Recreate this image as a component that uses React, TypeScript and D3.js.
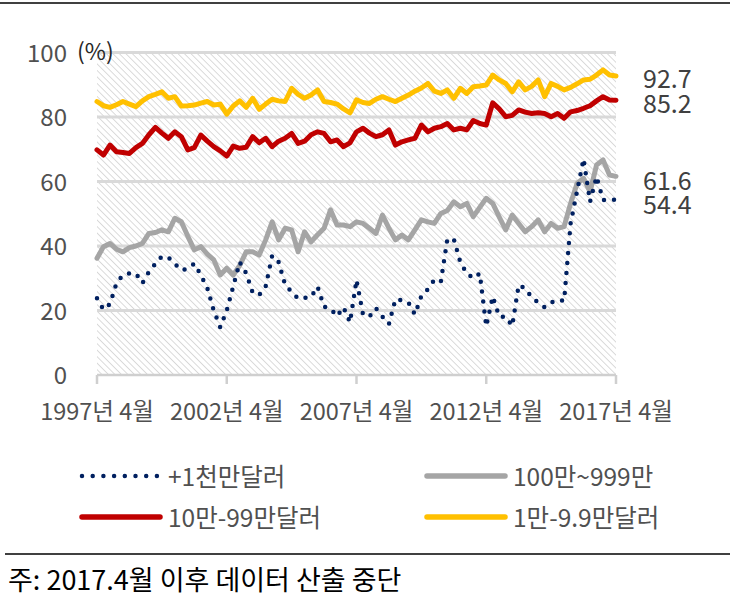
import { scaleLinear, line } from "d3";

const xLabels = ["1997년 4월", "2002년 4월", "2007년 4월", "2012년 4월", "2017년 4월"];
const yTicks = [0, 20, 40, 60, 80, 100];

// quarterly, 1997.4 ~ 2017.4 (81 points)
const small = [
  84.8, 83.5, 83, 83.8, 84.8, 84, 83.2, 85, 86.3, 87, 87.8, 85.8, 86.3, 83.4, 83.5, 83.7, 84.3, 84.8, 83.7, 84,
  80.9, 83.4, 85, 83, 85.8, 82.4, 84, 85.5, 85, 84.8, 88.9, 87, 85.8, 86.8, 88.4, 84.8, 84.5, 84, 82.5, 81.3,
  85.3, 84.5, 84.2, 85.5, 86.3, 85.5, 84.8, 85.8, 86.8, 88, 89, 90.4, 88, 87.3, 88.4, 85.8, 88.9, 87.3, 89.4, 89.6,
  89.9, 93, 91.5, 90.4, 87.8, 90.9, 88.4, 89.5, 91.5, 86.3, 90.4, 89.5, 88.4, 89.2, 90.3, 91.5, 91.7, 93, 94.6, 93,
  92.7,
];
const mid = [
  69.8, 68.2, 71.3, 69.2, 69, 68.7, 70.5, 71.8, 74.5, 76.8, 75, 73.4, 75.4, 73.9, 69.8, 70.5, 74.4, 72.5, 70.8, 69.5,
  67.9, 71, 70.3, 70.6, 73.9, 72, 73.4, 70.8, 72.5, 73.4, 74.9, 71.8, 72.5, 74.5, 75.4, 74.9, 72.3, 72.9, 70.8, 72,
  75.4, 76.5, 75, 73.9, 74.5, 76, 71.3, 72.3, 72.9, 73.4, 77.5, 75.4, 76.5, 77, 78, 76, 76.5, 76, 78.9, 78,
  77.5, 84.4, 82.5, 80.1, 80.5, 82.2, 81.5, 81.1, 81.3, 81.1, 80.1, 81.1, 79.6, 81.6, 82, 82.7, 83.5, 85, 86.3, 85.3,
  85.2,
];
const large = [
  36.2, 39.8, 40.8, 39, 38.2, 39.5, 40, 40.8, 43.9, 44.2, 45, 44.4, 48.6, 47.5, 43, 38.8, 39.8, 37.5, 35.7, 31,
  33.1, 31, 34, 38.2, 38.2, 37.2, 41.9, 47.5, 41.9, 45.5, 45, 38.2, 44.4, 41.3, 43.5, 45.5, 51.2, 46.5, 46.5, 46,
  47.5, 47, 45.5, 43.9, 49.6, 45.5, 41.9, 43.4, 41.9, 45, 48.1, 47.5, 47, 50.1, 51, 53.7, 52.2, 53.2, 49.1, 52,
  54.8, 53.2, 49, 45, 49.6, 47, 44.4, 46, 48.1, 44.4, 47, 45.5, 46, 53.2, 59.4, 61, 56.8, 65.1, 66.7, 62,
  61.6,
];
const top = [
  23.8, 20.3, 22, 28.5, 31, 31.5, 31.5, 28.5, 32, 34.5, 36.8, 36.5, 34.5, 32.5, 33, 34.5, 31, 27, 20, 14.8,
  20, 27.5, 35, 31.5, 25.5, 24.8, 27.5, 37, 35, 28, 25.8, 23.7, 23.9, 24.2, 27.4, 21.2, 20.6, 18.2, 21, 16.3,
  29.5, 18.8, 18.1, 20.7, 18.1, 15.8, 23.5, 23.2, 22.5, 18.8, 24.5, 26.6, 29.5, 28.9, 42.1, 42.1, 35, 31.5, 30, 31.5,
  15.1, 24.3, 18.1, 18.1, 15.2, 27.9, 26.9, 24.1, 22.5, 21, 22.5, 23.3, 23, 47, 57, 67, 53.7, 61.5, 54.3, 54.3,
  54.4,
];

const series = [
  { name: "100만~999만", values: large, color: "#A5A5A5", dotted: false, endDy: 3 },
  { name: "10만-99만달러", values: mid, color: "#C00000", dotted: false, endDy: 2 },
  { name: "1만-9.9만달러", values: small, color: "#FFC000", dotted: false, endDy: 1 },
  { name: "+1천만달러", values: top, color: "#002060", dotted: true, endDy: 3 },
];

const legendOrder = [
  { s: 3, col: 0, row: 0 },
  { s: 0, col: 1, row: 0 },
  { s: 1, col: 0, row: 1 },
  { s: 2, col: 1, row: 1 },
];

const FONT = "'Noto Sans CJK KR', 'Noto Sans', sans-serif";

export default function App() {
  const W = 735;
  const H = 598;
  const x = scaleLinear().domain([0, small.length - 1]).range([97, 616]);
  const y = scaleLinear().domain([0, 100]).range([375, 52.5]);
  const mk = line<number>()
    .x((_, i) => x(i))
    .y((d) => y(d));

  const legendX = [80, 425];
  const legendY = [476, 517];

  return (
    <svg
      width={W}
      height={H}
      style={{ position: "absolute", left: 0, top: 0, display: "block" }}
      fontFamily={FONT}
    >
      <defs>
        <pattern
          id="hatch"
          patternUnits="userSpaceOnUse"
          width={4.6}
          height={4.6}
          patternTransform="rotate(-45)"
        >
          <rect width={4.6} height={4.6} fill="#ffffff" />
          <line x1={0} y1={0} x2={0} y2={4.6} stroke="#d2d2d2" strokeWidth={1.6} />
        </pattern>
      </defs>
      <rect width={W} height={H} fill="#fff" />
      <line x1={0} x2={730} y1={3} y2={3} stroke="#000" strokeWidth={1.5} />

      <rect x={x(0)} y={y(100)} width={x(80) - x(0)} height={y(0) - y(100)} fill="url(#hatch)" />

      {yTicks.filter((t) => t > 0).map((t) => (
        <line key={t} x1={x(0)} x2={x(80)} y1={y(t)} y2={y(t)} stroke="#d9d9d9" strokeWidth={3} />
      ))}
      <line x1={x(0)} x2={x(80)} y1={y(0)} y2={y(0)} stroke="#cfcfcf" strokeWidth={2.5} />
      {xLabels.map((lab, k) => (
        <g key={lab}>
          <line x1={x(k * 20)} x2={x(k * 20)} y1={y(0)} y2={y(0) + 9} stroke="#cfcfcf" strokeWidth={2.5} />
          <text
            x={x(k * 20)}
            y={410}
            textAnchor="middle"
            dominantBaseline="central"
            fontSize={23.5}
            fill="#505050"
          >
            {lab}
          </text>
        </g>
      ))}

      {yTicks.map((t) => (
        <text
          key={t}
          x={67}
          y={y(t) - 1.5}
          textAnchor="end"
          dominantBaseline="central"
          fontSize={24}
          fill="#505050"
        >
          {t}
        </text>
      ))}
      <text x={77} y={y(100) - 2.5} dominantBaseline="central" fontSize={23} fill="#262626">
        (%)
      </text>

      {series.map((s) => (
        <path
          key={s.name}
          d={mk(s.values) ?? ""}
          fill="none"
          stroke={s.color}
          strokeWidth={s.dotted ? 4.5 : 5}
          strokeLinejoin="round"
          strokeLinecap="round"
          strokeDasharray={s.dotted ? "0 10" : undefined}
        />
      ))}

      {series.map((s) => {
        const v = s.values[s.values.length - 1];
        return (
          <text
            key={s.name + "end"}
            x={643}
            y={y(v) + s.endDy}
            dominantBaseline="central"
            fontSize={25}
            fill="#404040"
          >
            {v.toFixed(1)}
          </text>
        );
      })}

      {legendOrder.map(({ s, col, row }) => {
        const ser = series[s];
        const lx = legendX[col];
        const ly = legendY[row];
        return (
          <g key={ser.name + "lg"}>
            <line
              x1={lx + 2}
              x2={lx + 80}
              y1={ly}
              y2={ly}
              stroke={ser.color}
              strokeWidth={ser.dotted ? 4.5 : 5.5}
              strokeLinecap="round"
              strokeDasharray={ser.dotted ? "0 10.7" : undefined}
            />
            <text
              x={lx + 88}
              y={ly - 1}
              dominantBaseline="central"
              fontSize={24.5}
              fill="#505050"
            >
              {ser.name}
            </text>
          </g>
        );
      })}

      <line x1={5} x2={730} y1={554} y2={554} stroke="#000" strokeWidth={1.5} />
      <text x={8} y={578} dominantBaseline="central" fontSize={27} fill="#000">
        주: 2017.4월 이후 데이터 산출 중단
      </text>
    </svg>
  );
}
